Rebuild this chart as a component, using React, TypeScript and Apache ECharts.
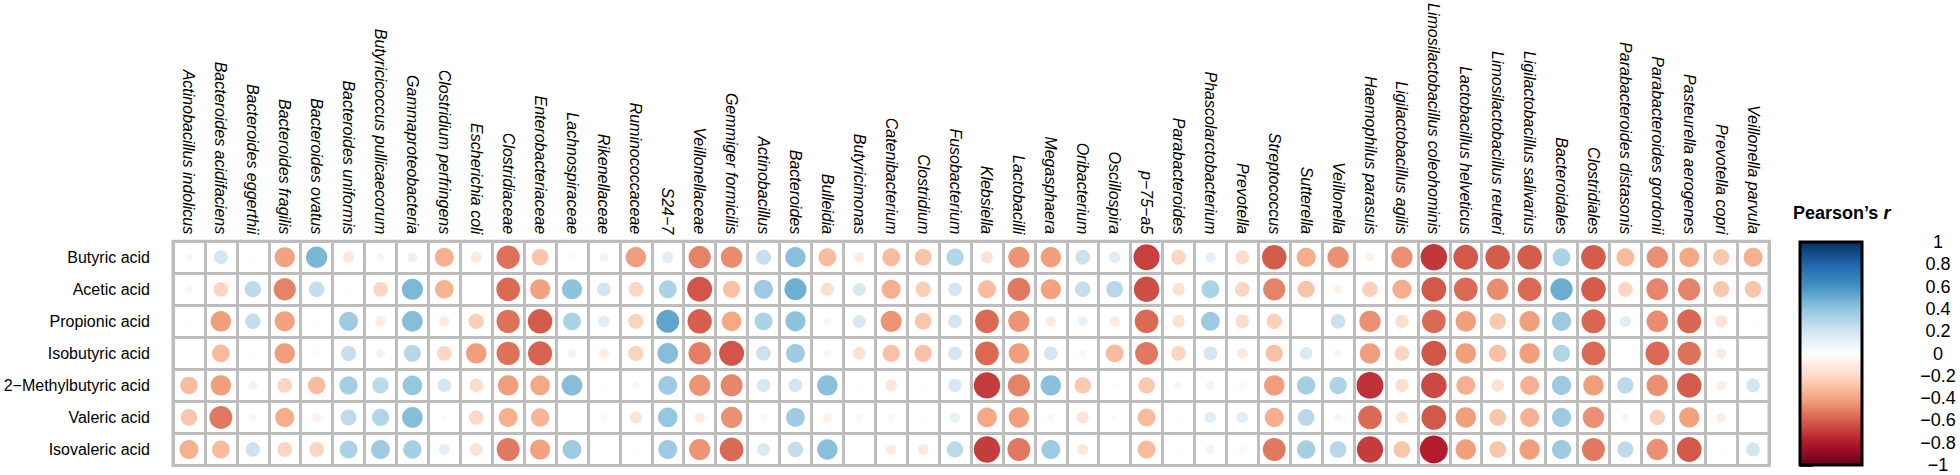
import React, { useEffect, useRef } from "react";
import * as echarts from "echarts";

const rowNames = [
  "Butyric acid",
  "Acetic acid",
  "Propionic acid",
  "Isobutyric acid",
  "2\u2212Methylbutyric acid",
  "Valeric acid",
  "Isovaleric acid",
];

const colNames = [
  "Actinobacillus indolicus", "Bacteroides acidifaciens", "Bacteroides eggerthii", "Bacteroides fragilis",
  "Bacteroides ovatus", "Bacteroides uniformis", "Butyricicoccus pullicaecorum", "Gammaproteobacteria",
  "Clostridium perfringens", "Escherichia coli", "Clostridiaceae", "Enterobacteriaceae", "Lachnospiraceae",
  "Rikenellaceae", "Ruminococcaceae", "S24\u22127", "Veillonellaceae", "Gemmiger formicilis", "Actinobacillus",
  "Bacteroides", "Bulleidia", "Butyricimonas", "Catenibacterium", "Clostridium", "Fusobacterium", "Klebsiella",
  "Lactobacilli", "Megasphaera", "Oribacterium", "Oscillospira", "p\u221275\u2212a5", "Parabacteroides",
  "Phascolarctobacterium", "Prevotella", "Streptococcus", "Sutterella", "Veillonella", "Haemophilus parasuis",
  "Ligilactobacillus agilis", "Limosilactobacillus coleohominis", "Lactobacillus helveticus",
  "Limosilactobacillus reuteri", "Ligilactobacillus salivarius", "Bacteroidales", "Clostridiales",
  "Parabacteroides distasonis", "Parabacteroides gordonii", "Pasteurella aerogenes", "Prevotella copri",
  "Veillonella parvula",
];

const butyric = [0.06, 0.19, -0.02, -0.41, 0.46, -0.13, -0.06, 0.10, -0.36, -0.12,
  -0.55, -0.28, -0.04, 0.08, -0.42, 0.13, -0.50, -0.47, 0.23, 0.42,
  -0.32, -0.11, -0.32, -0.29, 0.30, -0.15, -0.45, -0.42, 0.22, 0.13,
  -0.69, -0.22, 0.11, -0.19, -0.61, -0.37, -0.46, -0.08, -0.46, -0.71,
  -0.62, -0.61, -0.61, 0.32, -0.61, -0.32, -0.46, -0.39, -0.27, -0.36];

const acetic = [-0.06, -0.22, 0.27, -0.50, 0.24, 0.02, -0.22, 0.45, -0.35, -0.01,
  -0.57, -0.41, 0.41, 0.19, -0.22, 0.32, -0.63, -0.30, 0.36, 0.49,
  -0.18, 0.17, -0.36, -0.24, 0.19, -0.32, -0.53, -0.41, 0.24, 0.28,
  -0.65, -0.16, 0.32, -0.22, -0.50, -0.29, -0.08, -0.24, -0.37, -0.62,
  -0.57, -0.47, -0.57, 0.50, -0.61, -0.22, -0.49, -0.50, -0.27, -0.28];

const propionic = [0.02, -0.42, 0.24, -0.41, -0.02, 0.36, -0.11, 0.43, -0.11, -0.24,
  -0.55, -0.61, 0.32, 0.13, -0.23, 0.53, -0.60, -0.39, 0.32, 0.41,
  0.06, 0.17, -0.45, -0.28, 0.19, -0.57, -0.45, -0.11, 0.10, -0.11,
  -0.57, -0.16, 0.36, -0.19, -0.24, -0.01, 0.22, -0.46, -0.18, -0.57,
  -0.42, -0.27, -0.42, 0.37, -0.58, 0.13, -0.47, -0.58, -0.15, 0.02];

const isobutyric = [0.01, -0.32, -0.02, -0.42, -0.04, 0.23, 0.08, 0.29, -0.22, -0.42,
  -0.55, -0.59, 0.08, -0.10, -0.23, 0.43, -0.51, -0.63, 0.22, 0.36,
  0.06, -0.16, -0.30, -0.30, 0.19, -0.57, -0.42, 0.19, 0.05, -0.32,
  -0.53, -0.22, 0.19, -0.12, -0.30, 0.16, -0.06, -0.42, -0.22, -0.63,
  -0.42, -0.30, -0.42, 0.30, -0.57, 0.01, -0.57, -0.55, -0.11, 0.00];

const methylbutyric = [-0.31, -0.42, 0.08, -0.22, -0.31, 0.34, 0.27, 0.39, 0.19, -0.19,
  -0.42, -0.39, 0.43, -0.02, 0.06, 0.36, -0.45, -0.49, 0.18, 0.19,
  0.42, -0.02, -0.14, 0.02, 0.18, -0.70, -0.50, 0.42, -0.27, -0.03,
  -0.27, 0.06, 0.08, -0.05, -0.42, 0.34, 0.31, -0.73, -0.18, -0.66,
  -0.36, -0.16, -0.36, 0.37, -0.42, 0.27, -0.46, -0.61, -0.10, 0.19];

const valeric = [-0.28, -0.53, -0.06, -0.37, -0.08, 0.26, 0.30, 0.43, 0.03, -0.21,
  -0.36, -0.34, -0.01, -0.05, -0.15, 0.39, -0.11, -0.46, -0.05, 0.36,
  -0.08, 0.05, 0.05, 0.02, 0.11, -0.39, -0.42, 0.05, -0.15, 0.03,
  -0.32, -0.02, 0.13, 0.13, -0.37, 0.28, 0.06, -0.57, -0.15, -0.62,
  -0.42, -0.28, -0.36, 0.37, -0.46, 0.06, -0.24, -0.41, -0.10, 0.01];

const isovaleric = [-0.36, -0.32, 0.21, -0.22, -0.22, 0.32, 0.36, 0.34, 0.12, -0.16,
  -0.53, -0.41, 0.36, 0.01, -0.02, 0.36, -0.45, -0.57, 0.16, 0.24,
  0.42, 0.01, -0.11, -0.12, 0.27, -0.70, -0.53, 0.36, -0.13, -0.01,
  -0.32, 0.02, 0.08, -0.05, -0.53, 0.34, 0.28, -0.70, -0.28, -0.79,
  -0.42, -0.28, -0.42, 0.37, -0.53, 0.26, -0.46, -0.62, -0.02, 0.19];

const rowValues = [butyric, acetic, propionic, isobutyric, methylbutyric, valeric, isovaleric];

const legendTicks = [-1, -0.8, -0.6, -0.4, -0.2, 0, 0.2, 0.4, 0.6, 0.8, 1];

const RdBu = [
  "#67001F", "#B2182B", "#D6604D", "#F4A582", "#FDDBC7", "#FFFFFF",
  "#D1E5F0", "#92C5DE", "#4393C3", "#2166AC", "#053061",
];

const FONT = "'Liberation Sans', Arial, Helvetica, sans-serif";

export default function App() {
  const ref = useRef<HTMLDivElement>(null);
  useEffect(() => {
    if (!ref.current) return;
    const chart = echarts.init(ref.current, undefined, { renderer: "svg" });
    const data: number[][] = [];
    rowValues.forEach((arr, r) => arr.forEach((v, c) => data.push([c, r, v])));
    const gridColor = "#bdbdbd";
    const fmt = (v: number) => {
      const x = Math.round(v * 10) / 10;
      return x < 0 ? "\u2212" + String(Math.abs(x)) : String(x);
    };
    chart.setOption({
      animation: false,
      backgroundColor: "#ffffff",
      textStyle: { fontFamily: FONT },
      title: {
        text: "{a|Pearson\u2019s }{b|r}",
        left: 1793,
        top: 204,
        padding: 0,
        textStyle: {
          rich: {
            a: { fontFamily: FONT, fontWeight: "bold", fontSize: 18, color: "#000" },
            b: { fontFamily: FONT, fontWeight: "bold", fontStyle: "italic", fontSize: 18, color: "#000" },
          },
        },
      },
      grid: [
        {
          left: 173, top: 241, right: 191, bottom: 9.5,
          show: true, borderColor: gridColor, borderWidth: 3, backgroundColor: "#fff",
        },
        { left: 1800, top: 242, width: 62, height: 223 },
      ],
      xAxis: [
        {
          type: "category", data: colNames, position: "top", gridIndex: 0,
          axisLine: { show: false }, axisTick: { show: false },
          axisLabel: {
            interval: 0, rotate: 90, margin: 7, fontSize: 16, fontStyle: "italic",
            color: "#000", fontFamily: FONT,
          },
          splitLine: { show: true, interval: 0, lineStyle: { color: gridColor, width: 3 } },
        },
        { type: "value", gridIndex: 1, show: false, min: 0, max: 1 },
      ],
      yAxis: [
        {
          type: "category", data: rowNames, inverse: true, gridIndex: 0,
          axisLine: { show: false }, axisTick: { show: false },
          axisLabel: { interval: 0, margin: 23, fontSize: 16, color: "#000", fontFamily: FONT },
          splitLine: { show: true, interval: 0, lineStyle: { color: gridColor, width: 3 } },
        },
        {
          type: "value", gridIndex: 1, min: -1, max: 1, interval: 0.2, position: "right",
          splitLine: { show: false },
          axisLine: { show: false },
          axisTick: { show: true, length: 13, lineStyle: { color: "#000", width: 2.5 } },
          axisLabel: {
            margin: 76, align: "center", fontSize: 18, color: "#000", fontFamily: FONT,
            formatter: (v: number) => fmt(v),
            customValues: legendTicks,
          },
        },
      ],
      visualMap: {
        show: false, type: "continuous", min: -1, max: 1, dimension: 2, seriesIndex: 0,
        inRange: { color: RdBu },
      },
      graphic: [
        {
          type: "rect", z: 1,
          shape: { x: 1800, y: 242, width: 62, height: 223 },
          style: {
            fill: new echarts.graphic.LinearGradient(0, 0, 0, 1,
              RdBu.slice().reverse().map((c, i) => ({ offset: i / (RdBu.length - 1), color: c }))),
            stroke: "#000", lineWidth: 3,
          },
        },
      ],
      series: [
        {
          type: "scatter", xAxisIndex: 0, yAxisIndex: 0, data,
          symbol: "circle",
          symbolSize: (val: number[]) => 31.5 * Math.sqrt(Math.abs(val[2])),
          itemStyle: { opacity: 1 },
          emphasis: { disabled: true },
        },
      ],
    });
    return () => chart.dispose();
  }, []);
  return <div ref={ref} style={{ position: "fixed", left: 0, top: 0, width: 1960, height: 475 }} />;
}
